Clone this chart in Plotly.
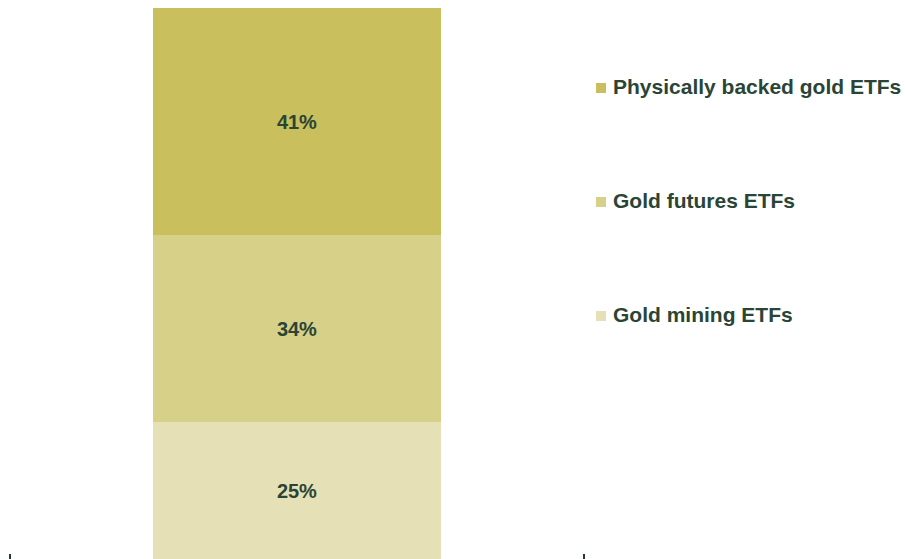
import plotly.graph_objects as go

# Share of gold ETF assets by product type (bottom to top of the stack)
series_names = ["Gold mining ETFs", "Gold futures ETFs", "Physically backed gold ETFs"]
series_values = [25, 34, 41]
series_colors = ["#E5E0B6", "#D7D089", "#C9BF5C"]
category_bounds = [-0.5, 0.5]  # edges of the single category slot

TEXT_COLOR = "#2A4536"
FONT = "Liberation Sans, Arial, sans-serif"

W, H = 905, 559
M_L, M_R, M_T, M_B = 9, 320, 0, 0
plot_w = W - M_L - M_R
plot_h = H - M_T - M_B
X_HALF = 0.50174  # axis half-range so the category edges sit just inside the plot


def px_to_paper_x(px):
    return (px - M_L) / plot_w


def px_to_paper_y(py):
    return (H - M_B - py) / plot_h


fig = go.Figure()
for name, val, col in zip(series_names, series_values, series_colors):
    fig.add_trace(go.Bar(
        x=[0], y=[val], name=name,
        marker=dict(color=col, line=dict(width=0)),
        width=0.502,
        text=[f"{val}%"], textposition="inside", insidetextanchor="middle",
        textfont=dict(family=FONT, size=20, color=TEXT_COLOR, weight="bold"),
        constraintext="none",
        showlegend=False,
    ))

# Category boundary tick marks along the bottom edge
for b in category_bounds:
    fig.add_shape(
        type="line", xref="x", yref="paper",
        x0=b, x1=b, y0=0, y1=px_to_paper_y(554),
        line=dict(color="#24382D", width=2),
    )

# Legend entries on the right, top entry is the top of the stack
legend_rows_py = [86, 200, 314]
for (name, col), py in zip(list(zip(series_names, series_colors))[::-1], legend_rows_py):
    fig.add_annotation(
        xref="paper", yref="paper",
        x=px_to_paper_x(611), y=px_to_paper_y(py),
        xanchor="left", yanchor="middle",
        text=f"<b>{name}</b>", showarrow=False,
        font=dict(family=FONT, size=21, color=TEXT_COLOR),
    )
    fig.add_shape(
        type="rect", xref="paper", yref="paper",
        x0=px_to_paper_x(596), x1=px_to_paper_x(606),
        y0=px_to_paper_y(py + 7), y1=px_to_paper_y(py - 3),
        fillcolor=col, line=dict(width=0),
    )

fig.update_layout(
    width=W, height=H,
    margin=dict(l=M_L, r=M_R, t=M_T, b=M_B),
    paper_bgcolor="white", plot_bgcolor="white",
    barmode="stack", bargap=0,
    showlegend=False,
    xaxis=dict(range=[-X_HALF, X_HALF], showticklabels=False, ticks="",
               showgrid=False, zeroline=False, showline=False),
    yaxis=dict(range=[0.25, 101.46], visible=False, showgrid=False),
)

fig.write_html("out.html")
